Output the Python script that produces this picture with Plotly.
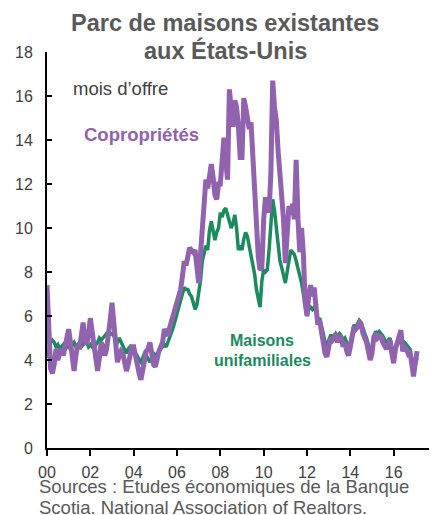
import plotly.graph_objects as go

# Monthly months-of-supply, Jan 2000 .. Feb 2017
condos = [
    7.4, 5.0, 3.6, 3.4, 3.8, 4.5, 4.0, 4.3, 4.5, 4.2, 4.6, 4.9,   # 2000
    5.4, 4.8, 4.0, 3.5, 4.2, 4.7, 4.5, 5.3, 5.7, 4.9, 4.7, 5.2,   # 2001
    5.9, 5.3, 4.6, 3.8, 3.5, 4.1, 4.8, 4.6, 4.2, 4.5, 5.0, 5.8,   # 2002
    6.6, 5.5, 4.5, 3.9, 4.2, 4.4, 4.3, 3.9, 3.5, 3.8, 4.3, 4.6,   # 2003
    4.6, 4.2, 3.6, 3.4, 3.1, 3.6, 4.0, 4.4, 4.5, 4.8, 4.3, 3.8,   # 2004
    3.7, 4.1, 4.4, 4.6, 4.8, 5.4, 5.2, 5.1, 5.5, 5.8, 6.1, 6.3,   # 2005
    6.5, 7.0, 7.2, 7.8, 8.5, 8.3, 8.8, 9.1, 9.0, 8.9, 9.0, 8.0,   # 2006
    7.5, 8.8, 10.0, 10.5, 12.2, 11.8, 12.5, 12.9, 12.3, 11.5, 11.3, 12.0,  # 2007
    12.0, 13.2, 14.1, 13.0, 12.2, 16.3, 15.0, 14.6, 15.8, 15.5, 14.6, 13.2,  # 2008
    13.2, 15.9, 15.5, 14.9, 14.5, 14.8, 13.0, 11.9, 9.8, 8.7, 8.1, 8.2,   # 2009
    10.4, 11.4, 11.0, 10.7, 12.5, 16.7, 15.5, 14.9, 13.5, 12.6, 11.5, 10.4,  # 2010
    8.4, 10.0, 11.0, 10.6, 11.1, 10.4, 13.1, 10.4, 8.9, 10.0, 8.8, 6.6,   # 2011
    6.0, 7.0, 7.4, 6.9, 7.3, 6.4, 5.6, 5.8, 5.3, 4.8, 4.3, 4.15,   # 2012
    4.8, 5.0, 4.9, 5.0, 5.2, 4.8, 5.1, 5.0, 4.6, 4.8, 4.4, 4.2,   # 2013
    4.6, 5.2, 5.5, 5.4, 5.5, 5.7, 5.6, 5.2, 5.0, 4.8, 4.4, 4.0,   # 2014
    4.3, 5.05, 5.2, 5.0, 5.1, 5.05, 4.8, 4.6, 4.5, 4.7, 4.9, 4.3,  # 2015
    3.85, 4.5, 4.8, 4.9, 5.35, 4.4, 4.6, 4.5, 4.3, 4.4, 3.55, 3.25,  # 2016
    3.9, 4.4,                                                     # 2017
]

single_family = [
    4.1, 4.5, 4.8, 4.9, 4.8, 4.6, 4.7, 4.5, 4.6, 4.7, 4.5, 4.6,   # 2000
    4.6, 4.5, 4.7, 4.8, 4.6, 4.7, 4.8, 4.6, 4.7, 4.9, 4.8, 4.6,   # 2001
    4.7, 4.6, 4.5, 4.7, 4.8, 5.0, 4.9, 5.0, 5.1, 5.2, 5.1, 5.2,   # 2002
    5.2, 5.1, 4.9, 4.8, 5.0, 4.8, 4.6, 4.5, 4.3, 4.5, 4.6, 4.4,   # 2003
    4.5, 4.3, 4.2, 4.0, 3.9, 4.1, 4.3, 4.2, 4.0, 3.9, 4.1, 4.3,   # 2004
    4.2, 4.3, 4.4, 4.5, 4.6, 4.7, 4.6, 4.8, 5.0, 5.2, 5.5, 5.8,   # 2005
    6.1, 6.5, 6.8, 7.1, 7.3, 7.2, 7.2, 7.0, 6.9, 6.6, 6.3, 6.5,   # 2006
    7.0, 7.6, 8.5, 8.8, 9.2, 9.0, 9.9, 10.3, 9.9, 9.45, 9.8, 10.0,  # 2007
    10.7, 10.5, 10.8, 10.9, 10.6, 10.3, 10.0, 10.2, 10.6, 10.0, 9.0, 9.2,  # 2008
    9.0, 9.5, 9.8, 9.6, 9.2, 8.8, 8.5, 7.9, 7.2, 6.7, 6.4, 7.6,   # 2009
    8.1, 8.0, 8.1, 9.0, 10.5, 11.3, 10.8, 10.0, 9.1, 8.5, 8.2, 7.8,  # 2010
    7.5, 8.0, 8.6, 9.0, 8.9, 8.8, 8.5, 8.2, 7.8, 7.5, 7.0, 6.5,   # 2011
    6.0, 6.3, 6.4, 6.3, 6.4, 6.2, 5.8, 5.9, 5.6, 5.2, 4.8, 4.6,   # 2012
    4.9, 5.1, 5.1, 5.0, 5.2, 5.1, 5.2, 5.1, 4.9, 5.0, 4.8, 4.5,   # 2013
    4.8, 5.3, 5.6, 5.5, 5.7, 5.8, 5.7, 5.4, 5.2, 5.0, 4.7, 4.4,   # 2014
    4.5, 5.0, 5.3, 5.2, 5.3, 5.2, 5.1, 4.9, 4.8, 4.9, 5.0, 4.5,   # 2015
    4.2, 4.6, 4.8, 4.9, 5.2, 4.7, 4.8, 4.7, 4.6, 4.5, 3.9, 3.6,   # 2016
    3.8, 4.1,                                                     # 2017
]

tick_years = [2000, 2002, 2004, 2006, 2008, 2010, 2012, 2014, 2016]
tick_labels = ["00", "02", "04", "06", "08", "10", "12", "14", "16"]

n = len(condos)
t = [2000 + i / 12 for i in range(n)]

PURPLE = "#9162AE"
GREEN = "#1C8A5E"
GRAY = "#595959"
FONT = "Liberation Sans, Arial, sans-serif"

# The page adds an 8px body margin, so the figure is drawn at (8, 8)
OFF = 8
W, H = 437 - OFF, 515 - OFF
L, R, T = 47 - OFF, 0, 52 - OFF
B = H - (448 - OFF)
PW, PH = W - L - R, H - T - B

fig = go.Figure()
fig.add_trace(go.Scatter(x=t, y=single_family, mode="lines",
                         line=dict(color=GREEN, width=3.5), name="Maisons unifamiliales"))
fig.add_trace(go.Scatter(x=t, y=condos, mode="lines",
                         line=dict(color=PURPLE, width=5), name="Copropriétés"))

fig.update_layout(
    width=W, height=H,
    margin=dict(l=L, r=R, t=T, b=B, autoexpand=False),
    paper_bgcolor="white", plot_bgcolor="white",
    showlegend=False,
    font=dict(family=FONT, color="#404040", size=16),
)
fig.update_xaxes(range=[2000, 2018], tickvals=tick_years, ticktext=tick_labels,
                 automargin=False, ticklabelstandoff=3,
                 showgrid=False, zeroline=False, showline=True, linecolor="black",
                 linewidth=2, ticks="outside", ticklen=6, tickwidth=2, tickcolor="black",
                 tickfont=dict(size=16, color="#404040"))
fig.update_yaxes(range=[0, 18], dtick=2, showgrid=False, zeroline=False,
                 automargin=False, ticklabelstandoff=9,
                 showline=True, linecolor="black", linewidth=2,
                 ticks="inside", ticklen=5, tickwidth=2, tickcolor="black",
                 tickfont=dict(size=16, color="#404040"))


def px_x(x):
    # x given in reference-page pixels
    return (x - OFF - L) / PW


def px_y(y):
    return (H - B - (y - OFF)) / PH


ann = [
    dict(text="<b>Parc de maisons existantes</b>", x=225, y=23, size=23.5, color=GRAY),
    dict(text="<b>aux États-Unis</b>", x=225, y=50, size=23.5, color=GRAY),
    dict(text="mois d’offre", x=120, y=88, size=18.5, color="#404040"),
    dict(text="<b>Copropriétés</b>", x=141, y=134, size=18.5, color=PURPLE),
    dict(text="<b>Maisons</b>", x=262, y=340, size=16, color=GREEN),
    dict(text="<b>unifamiliales</b>", x=262, y=360, size=16, color=GREEN),
]
for a in ann:
    fig.add_annotation(text=a["text"], xref="paper", yref="paper",
                       x=px_x(a["x"]), y=px_y(a["y"]),
                       xanchor="center", yanchor="middle", showarrow=False,
                       font=dict(family=FONT, size=a["size"], color=a["color"]))

for txt, yy in [("Sources : Études économiques de la Banque", 487),
                ("Scotia. National Association of Realtors.", 507)]:
    fig.add_annotation(text=txt, xref="paper", yref="paper",
                       x=px_x(37), y=px_y(yy),
                       xanchor="left", yanchor="middle", showarrow=False,
                       font=dict(family=FONT, size=18.5, color=GRAY))

fig.write_html("out.html")
